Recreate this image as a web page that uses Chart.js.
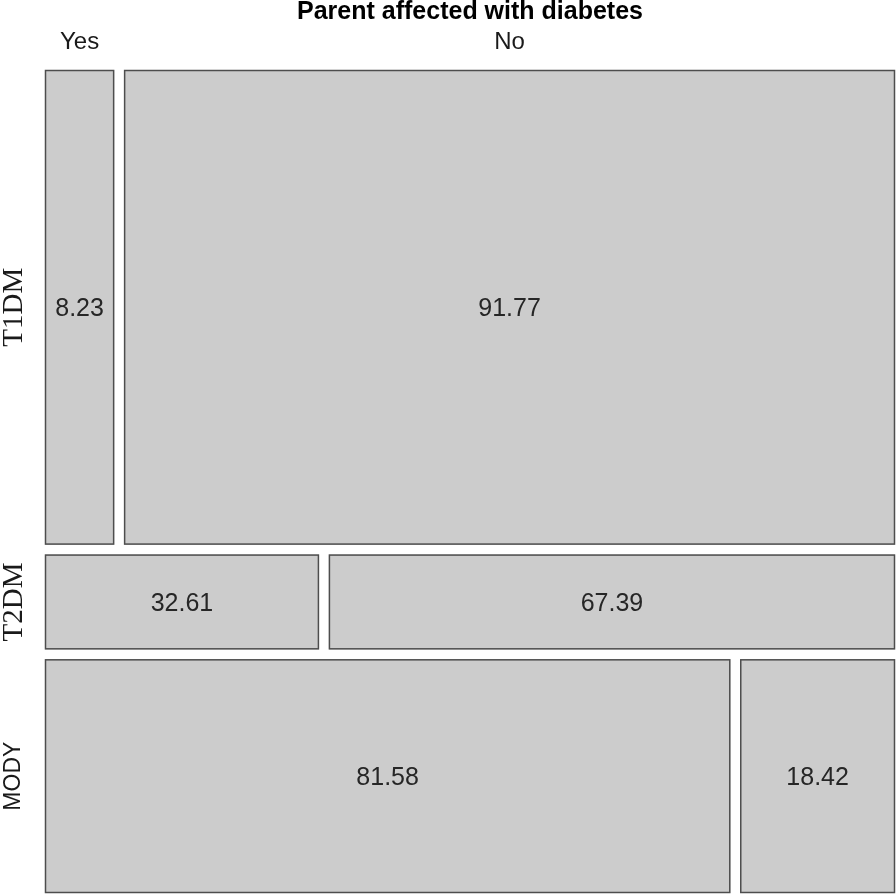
<!DOCTYPE html>
<html>
<head>
<meta charset="utf-8">
<script src="https://cdn.jsdelivr.net/npm/chart.js@4/dist/chart.umd.min.js"></script>
<style>
html,body{margin:0;padding:0;background:#fff;}
#wrap{width:896px;height:896px;position:relative;}
</style>
</head>
<body>
<div id="wrap"><canvas id="c" width="896" height="896"></canvas></div>
<script>
const title = 'Parent affected with diabetes';
const columns = ['Yes', 'No'];
const rows = ['T1DM', 'T2DM', 'MODY'];
const rowShare = [59.1, 11.8, 29.1];
const yesPct = [8.23, 32.61, 81.58];
const noPct = [91.77, 67.39, 18.42];
const rowFonts = ['29px "Liberation Serif", serif', '29px "Liberation Serif", serif', '23px "Liberation Sans", Arial, sans-serif'];

const GX = 1.19;   // gap between columns, in x units
const GY = 1.245;  // gap between rows, in y units

// build cells in data units
const cells = [];
let y0 = 0;
rows.forEach((r, i) => {
  const y1 = y0 + rowShare[i];
  cells.push({x0: 0, x1: yesPct[i], y0, y1, label: yesPct[i].toFixed(2), col: 0, row: i});
  cells.push({x0: yesPct[i] + GX, x1: 100 + GX, y0, y1, label: noPct[i].toFixed(2), col: 1, row: i});
  y0 = y1 + GY;
});

const mosaicPlugin = {
  id: 'mosaic',
  afterDatasetsDraw(chart) {
    const ctx = chart.ctx;
    const xs = chart.scales.x, ys = chart.scales.y;
    ctx.save();
    cells.forEach(c => {
      const px0 = xs.getPixelForValue(c.x0), px1 = xs.getPixelForValue(c.x1);
      const py0 = ys.getPixelForValue(c.y0), py1 = ys.getPixelForValue(c.y1);
      ctx.fillStyle = '#cccccc';
      ctx.fillRect(px0, py0, px1 - px0, py1 - py0);
      ctx.strokeStyle = '#4d4d4d';
      ctx.lineWidth = 1.5;
      ctx.strokeRect(px0 + 0.5, py0 + 0.5, px1 - px0 - 1, py1 - py0 - 1);
      ctx.fillStyle = '#262626';
      ctx.font = '25px "Liberation Sans", Arial, sans-serif';
      ctx.textAlign = 'center';
      ctx.textBaseline = 'middle';
      ctx.fillText(c.label, (px0 + px1) / 2, (py0 + py1) / 2 + 2);
    });
    // column labels above first row
    ctx.fillStyle = '#1a1a1a';
    ctx.font = '24px "Liberation Sans", Arial, sans-serif';
    ctx.textAlign = 'center';
    ctx.textBaseline = 'middle';
    cells.filter(c => c.row === 0).forEach(c => {
      const cx = (xs.getPixelForValue(c.x0) + xs.getPixelForValue(c.x1)) / 2;
      ctx.fillText(columns[c.col], cx, 42);
    });
    // title
    ctx.font = 'bold 25px "Liberation Sans", Arial, sans-serif';
    ctx.fillStyle = '#000';
    ctx.fillText(title, (chart.chartArea.left + chart.chartArea.right) / 2, 12);
    // row labels
    rows.forEach((r, i) => {
      const c = cells[i * 2];
      const cy = (ys.getPixelForValue(c.y0) + ys.getPixelForValue(c.y1)) / 2;
      ctx.save();
      ctx.translate(14, cy);
      ctx.rotate(-Math.PI / 2);
      ctx.font = rowFonts[i];
      ctx.fillStyle = '#1a1a1a';
      ctx.textAlign = 'center';
      ctx.textBaseline = 'middle';
      ctx.fillText(r, 0, 0);
      ctx.restore();
    });
    ctx.restore();
  }
};

new Chart(document.getElementById('c'), {
  type: 'scatter',
  data: { datasets: [{ data: [] }] },
  options: {
    responsive: false,
    animation: false,
    layout: { padding: { left: 45, right: 1, top: 70, bottom: 3 } },
    plugins: { legend: { display: false }, tooltip: { enabled: false } },
    scales: {
      x: { type: 'linear', min: 0, max: 100 + GX, display: false },
      y: { type: 'linear', min: 0, max: 100 + 2 * GY, reverse: true, display: false }
    }
  },
  plugins: [mosaicPlugin]
});
</script>
</body>
</html>
